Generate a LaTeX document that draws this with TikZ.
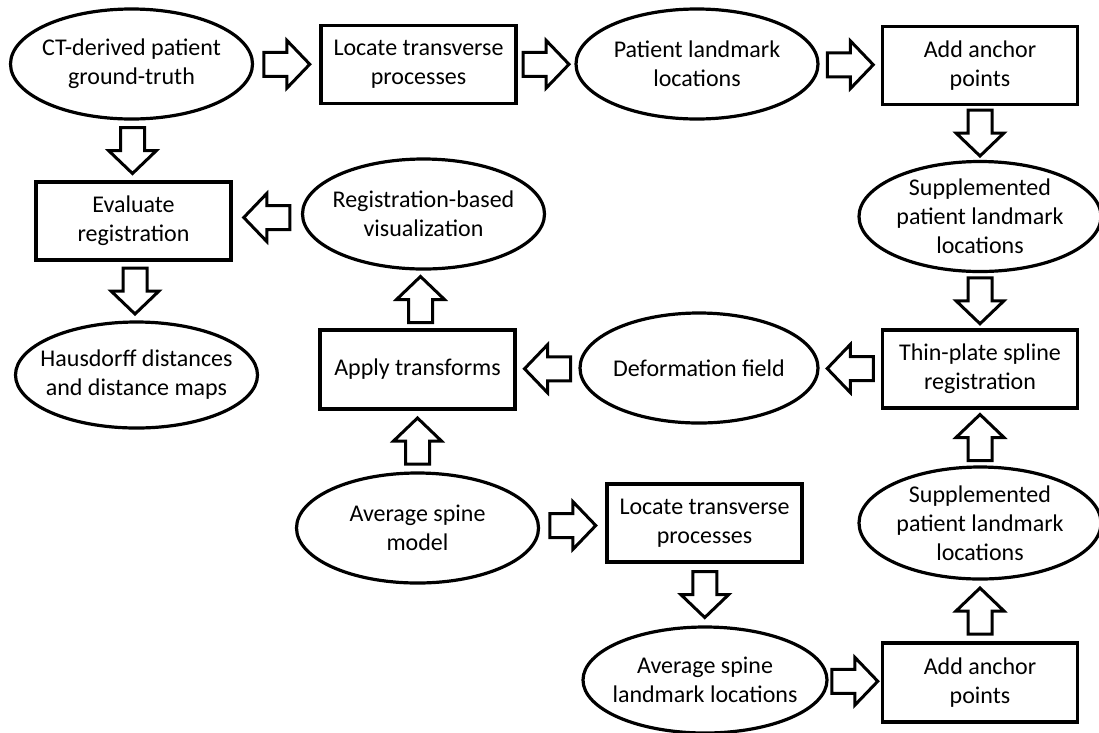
\documentclass[tikz,border=0pt]{standalone}
\usepackage{fontspec}
\setmainfont{Carlito}
\usetikzlibrary{shapes.geometric,calc}
\begin{document}
\begin{tikzpicture}[x=1pt,y=-1pt,
  every node/.style={font=\fontsize{24}{29}\selectfont, align=center},
  ell/.style={ellipse, draw, line width=3.2pt, inner xsep=-40pt, inner ysep=-16pt,
    minimum width=242pt, minimum height=110pt},
  box/.style={rectangle, draw, line width=3.2pt, minimum width=195pt, minimum height=78pt, inner sep=2pt},
  barrowline/.style={draw, line width=3pt, fill=white},
  pics/barr/.style={code={\draw[barrowline] (-23,-12) -- (0,-12) -- (0,-24) -- (23,0) -- (0,24) -- (0,12) -- (-23,12) -- cycle;}}
]
\useasboundingbox (0,0) rectangle (1099,732);

% nodes
\node[ell] (e1) at (131.5,64) {CT-derived patient\\ground-truth};
\node[box] (b1) at (418.5,64.5) {Locate transverse\\processes};
\node[ell] (e2) at (697,64) {Patient landmark\\locations};
\node[box] (b2) at (980,65.5) {Add anchor\\points};
\node[ell] (e3) at (980,216.5) {Supplemented\\patient landmark\\locations};
\node[ell] (reg) at (423.5,214) {Registration-based\\visualization};
\node[box] (eval) at (133.5,221) {Evaluate\\registration};
\node[ell, minimum height=106pt] (haus) at (136.5,375) {Hausdorff distances\\and distance maps};
\node[box, minimum height=79pt] (apply) at (417.5,369.5) {\raisebox{5pt}{Apply transforms}};
\node[ell, minimum width=238pt] (def) at (699,368) {Deformation field};
\node[box] (tps) at (980,369) {Thin-plate spline\\registration};
\node[ell, minimum height=112pt] (e5) at (980,523) {Supplemented\\patient landmark\\locations};
\node[ell] (avg) at (417.5,528) {Average spine\\model};
\node[box] (b5) at (704.5,523) {Locate transverse\\processes};
\node[ell, minimum width=244pt, minimum height=106pt] (e8) at (705,680) {Average spine\\landmark locations};
\node[box, minimum height=79pt] (b6) at (980,682.5) {Add anchor\\points};

% block arrows (connectors)
\pic at ($(e1.east)!0.5!(b1.west)$) {barr};
\pic at ($(b1.east)!0.5!(e2.west)$) {barr};
\pic at ($(e2.east)!0.5!(b2.west)$) {barr};
\pic[rotate=-90] at ($(b2.south)!0.5!(e3.north)$) {barr};
\pic[rotate=-90] at ($(e3.south)!0.5!(tps.north)$) {barr};
\pic[rotate=180] at ($(tps.west)!0.5!(def.east)$) {barr};
\pic[rotate=180] at ($(def.west)!0.5!(apply.east)$) {barr};
\pic[rotate=90] at ($(apply.north)!0.5!(reg.south)$) {barr};
\pic[rotate=180] at ($(reg.west)!0.5!(eval.east)$) {barr};
\pic[rotate=-90] at ($(e1.south)!0.5!(eval.north)$) {barr};
\pic[rotate=-90] at ($(eval.south)!0.5!(haus.north)$) {barr};
\pic[rotate=90] at ($(avg.north)!0.5!(apply.south)$) {barr};
\pic at ($(avg.east)!0.5!(b5.west)$) {barr};
\pic[rotate=-90] at ($(b5.south)!0.5!(e8.north)$) {barr};
\pic at ($(e8.east)!0.5!(b6.west)$) {barr};
\pic[rotate=90] at ($(b6.north)!0.5!(e5.south)$) {barr};
\pic[rotate=90] at ($(e5.north)!0.5!(tps.south)$) {barr};
\end{tikzpicture}
\end{document}
